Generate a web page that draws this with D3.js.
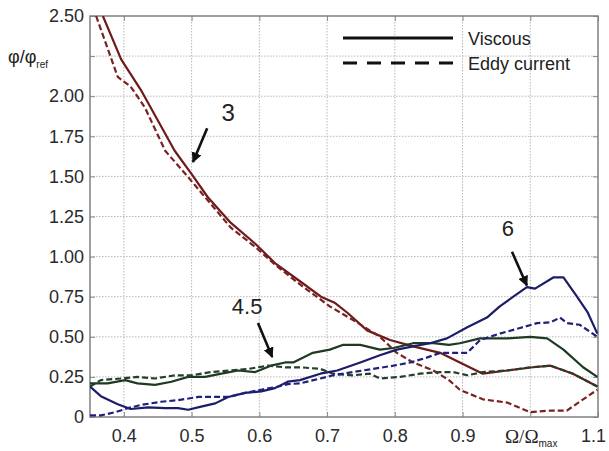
<!DOCTYPE html>
<html><head><meta charset="utf-8">
<script src="https://cdn.jsdelivr.net/npm/d3@7"></script>
<style>body{margin:0;background:#fff;} svg{display:block;font-family:"Liberation Sans",Arial,sans-serif;}</style>
</head><body>
<svg id="c" width="609" height="451"></svg>
<script>
const xTicks = [0.4,0.5,0.6,0.7,0.8,0.9,1.0,1.1];
const xTickLabels = ["0.4","0.5","0.6","0.7","0.8","0.9","","1.1"];
const yTicks = [0,0.25,0.5,0.75,1.0,1.25,1.5,1.75,2.0,2.25,2.5];
const yTickLabels = ["0","0.25","0.50","0.75","1.00","1.25","1.50","1.75","2.00","","2.50"];

const r3vX = [0.369,0.396,0.425,0.45,0.475,0.499,0.524,0.558,0.594,0.623,0.662,0.691,0.712,0.73,0.759,0.793,0.827,0.867,0.896,0.93,0.966,1.004,1.03,1.063,1.099];
const r3vY = [2.50,2.23,2.04,1.85,1.66,1.52,1.37,1.21,1.08,0.96,0.84,0.75,0.71,0.65,0.54,0.48,0.44,0.40,0.34,0.27,0.29,0.31,0.32,0.27,0.19];
const r3eX = [0.359,0.391,0.41,0.431,0.461,0.49,0.514,0.558,0.594,0.623,0.662,0.704,0.744,0.778,0.803,0.827,0.857,0.88,0.896,0.93,0.966,1.0,1.03,1.054,1.078,1.099];
const r3eY = [2.50,2.12,2.06,1.93,1.66,1.52,1.40,1.18,1.06,0.95,0.82,0.69,0.59,0.50,0.40,0.34,0.29,0.23,0.17,0.11,0.09,0.03,0.04,0.04,0.11,0.17];
const g45vX = [0.35,0.376,0.402,0.42,0.446,0.47,0.495,0.52,0.544,0.569,0.594,0.617,0.638,0.65,0.679,0.704,0.724,0.749,0.778,0.798,0.827,0.857,0.88,0.896,0.926,0.966,1.0,1.025,1.049,1.078,1.099];
const g45vY = [0.21,0.21,0.23,0.21,0.20,0.22,0.25,0.25,0.27,0.29,0.28,0.32,0.34,0.34,0.40,0.42,0.45,0.45,0.42,0.43,0.46,0.46,0.45,0.46,0.49,0.49,0.50,0.49,0.42,0.31,0.25];
const g45eX = [0.35,0.366,0.396,0.42,0.446,0.475,0.499,0.529,0.558,0.584,0.613,0.638,0.66,0.69,0.709,0.738,0.763,0.778,0.808,0.837,0.867,0.886,0.907,0.93,0.966,1.0,1.03,1.063,1.099];
const g45eY = [0.19,0.23,0.24,0.25,0.24,0.26,0.26,0.28,0.29,0.30,0.32,0.31,0.31,0.30,0.27,0.26,0.27,0.24,0.25,0.27,0.28,0.28,0.26,0.28,0.29,0.31,0.32,0.27,0.19];
const b6vX = [0.35,0.366,0.391,0.41,0.436,0.461,0.48,0.495,0.514,0.535,0.554,0.579,0.603,0.623,0.642,0.66,0.69,0.715,0.749,0.778,0.803,0.827,0.852,0.877,0.907,0.936,0.955,0.975,0.995,1.007,1.034,1.049,1.069,1.085,1.099];
const b6vY = [0.19,0.13,0.08,0.05,0.06,0.055,0.055,0.045,0.065,0.085,0.125,0.15,0.16,0.18,0.22,0.23,0.27,0.29,0.34,0.385,0.42,0.44,0.46,0.49,0.56,0.62,0.69,0.75,0.81,0.80,0.87,0.87,0.75,0.65,0.52];
const b6eX = [0.35,0.366,0.387,0.406,0.425,0.455,0.48,0.51,0.535,0.554,0.579,0.603,0.628,0.642,0.66,0.69,0.709,0.738,0.768,0.798,0.823,0.847,0.867,0.886,0.907,0.926,0.955,0.985,1.01,1.03,1.044,1.054,1.073,1.099];
const b6eY = [0.01,0.01,0.03,0.055,0.075,0.095,0.105,0.125,0.125,0.125,0.15,0.17,0.19,0.205,0.21,0.24,0.26,0.28,0.30,0.32,0.34,0.37,0.40,0.40,0.40,0.48,0.52,0.555,0.585,0.59,0.62,0.585,0.575,0.50];

const seriesNames = ["3 viscous","3 eddy","4.5 viscous","4.5 eddy","6 viscous","6 eddy"];
const seriesX = [r3vX,r3eX,g45vX,g45eX,b6vX,b6eX];
const seriesY = [r3vY,r3eY,g45vY,g45eY,b6vY,b6eY];
const seriesColor = ["#6e1a1a","#7a2222","#1e3a22","#22402a","#1c1c6a","#20207a"];
const seriesDashed = [false,true,false,true,false,true];

const annLabels = ["3","6","4.5"];
const annText = [[0.554,1.90],[0.967,1.18],[0.582,0.69]];
const annFrom = [[0.523,1.80],[0.973,1.03],[0.598,0.586]];
const annTo = [[0.502,1.59],[0.995,0.82],[0.619,0.374]];

const L=90, R=598, T=16, B=417;
const x = d3.scaleLinear().domain([0.35,1.1]).range([L,R]);
const y = d3.scaleLinear().domain([0,2.5]).range([B,T]);
const svg = d3.select("#c");

// grid
const grid = svg.append("g").attr("stroke","#b8b8b8").attr("stroke-width",1).attr("stroke-dasharray","1.5,1.5");
grid.selectAll("line.v").data(xTicks.filter(d=>d<1.1)).join("line").attr("x1",d=>x(d)).attr("x2",d=>x(d)).attr("y1",T).attr("y2",B);
grid.selectAll("line.h").data(yTicks.filter(d=>d>0&&d<2.5)).join("line").attr("class","h").attr("x1",L).attr("x2",R).attr("y1",d=>y(d)).attr("y2",d=>y(d));

// axes (inside ticks)
const ax = d3.axisBottom(x).tickValues(xTicks).tickSize(-5).tickPadding(12).tickFormat((d,i)=>xTickLabels[i]);
const gx = svg.append("g").attr("transform",`translate(0,${B})`).call(ax);
gx.selectAll(".tick text").filter(d=>d===1.1).attr("dx","-5");
const ay = d3.axisLeft(y).tickValues(yTicks).tickSize(-5).tickPadding(6).tickFormat((d,i)=>yTickLabels[i]);
const gy = svg.append("g").attr("transform",`translate(${L},0)`).call(ay);
const axt = d3.axisTop(x).tickValues(xTicks).tickSize(-5).tickFormat("");
svg.append("g").attr("transform",`translate(0,${T})`).call(axt);
const ayr = d3.axisRight(y).tickValues(yTicks).tickSize(-5).tickFormat("");
svg.append("g").attr("transform",`translate(${R},0)`).call(ayr);
svg.selectAll(".domain").remove();
svg.selectAll(".tick line").attr("stroke","#888");
svg.selectAll(".tick text").attr("fill","#2a2a2a").style("font-size","18px").style("font-family","'Liberation Sans',Arial,sans-serif");
svg.append("rect").attr("x",L).attr("y",T).attr("width",R-L).attr("height",B-T).attr("fill","none").attr("stroke","#808080").attr("stroke-width",1.5);

// clip
svg.append("clipPath").attr("id","clip").append("rect").attr("x",L).attr("y",T).attr("width",R-L).attr("height",B-T);

const line = d3.line().x(d=>x(d[0])).y(d=>y(d[1]));
const plot = svg.append("g").attr("clip-path","url(#clip)");
seriesNames.forEach((n,i)=>{
  const pts = seriesX[i].map((v,j)=>[v,seriesY[i][j]]);
  plot.append("path").datum(pts).attr("d",line).attr("fill","none")
    .attr("stroke",seriesColor[i]).attr("stroke-width",2.2)
    .attr("stroke-dasharray",seriesDashed[i]?"6,3":null)
    .attr("stroke-linejoin","round");
});

// legend
const lg = svg.append("g");
lg.append("line").attr("x1",343).attr("x2",453).attr("y1",38).attr("y2",38).attr("stroke","#111").attr("stroke-width",3);
lg.append("line").attr("x1",343).attr("x2",453).attr("y1",63).attr("y2",63).attr("stroke","#111").attr("stroke-width",3).attr("stroke-dasharray","14,10");
lg.append("text").attr("x",468).attr("y",45).text("Viscous").attr("fill","#222").style("font-size","18px");
lg.append("text").attr("x",468).attr("y",70).text("Eddy current").attr("fill","#222").style("font-size","18px");

// annotations
svg.append("defs").append("marker").attr("id","ah").attr("viewBox","0 0 10 10").attr("refX",9).attr("refY",5)
  .attr("markerWidth",4).attr("markerHeight",4).attr("orient","auto")
  .append("path").attr("d","M0,0L10,5L0,10z").attr("fill","#111");
annLabels.forEach((t,i)=>{
  svg.append("text").attr("x",x(annText[i][0])).attr("y",y(annText[i][1])).attr("dy","0.36em")
    .attr("text-anchor","middle").attr("fill","#222").style("font-size",i===0?"24px":"22px").text(t);
  svg.append("line").attr("x1",x(annFrom[i][0])).attr("y1",y(annFrom[i][1]))
    .attr("x2",x(annTo[i][0])).attr("y2",y(annTo[i][1])).attr("stroke","#111").attr("stroke-width",2.6)
    .attr("marker-end","url(#ah)");
});

// axis labels
const yl = svg.append("text").attr("x",8).attr("y",63).attr("fill","#222").style("font-size","18px");
yl.append("tspan").text("φ/φ");
yl.append("tspan").text("ref").style("font-size","10px").attr("dy","5");
const xl = svg.append("text").attr("x",505).attr("y",443).attr("fill","#222").style("font-size","19px").style("font-family","'Liberation Serif','Times New Roman',serif");
xl.append("tspan").text("Ω/Ω");
xl.append("tspan").text("max").style("font-size","10px").style("font-family","'Liberation Sans',Arial,sans-serif").attr("dy","4");
</script>
</body></html>
